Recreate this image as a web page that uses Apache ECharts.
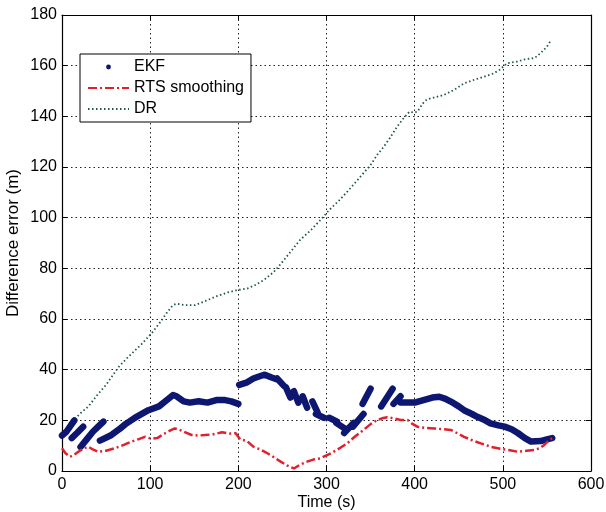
<!DOCTYPE html>
<html>
<head>
<meta charset="utf-8">
<script src="https://cdn.jsdelivr.net/npm/echarts@6/dist/echarts.min.js"></script>
<style>
html,body{margin:0;padding:0;background:#fff;}
#chart{width:606px;height:512px;}
</style>
</head>
<body>
<div id="chart"></div>
<script>
// ---- data ----
const seriesNames = ['EKF', 'RTS smoothing', 'DR'];

// EKF estimate: a thick band made of separate pieces (gaps between them)
const ekfSegments = [
  [[0,14],[5,15.5],[10,18],[14,20]],
  [[11,13],[17,15],[24,17.5]],
  [[21,9.5],[28,12.5],[35,15.5],[41,17.5],[47,19.5]],
  [[43,12],[55,14],[65,16.5],[72,18.5],[85,21.5],[98,24],[110,25.5],[119,28],[126,30],[130,29.5],[138,27.5],[145,27],[155,27.5],[165,27],[175,28],[185,28],[192,27.5],[200,26.5]],
  [[201,34],[210,35],[217,36.5],[225,37.5],[230,38],[237,37],[245,36]],
  [[244,36.5],[252,33.5]],
  [[254,33],[259,29]],
  [[263,31.5],[268,27]],
  [[273,29.5],[278,25]],
  [[284,27.5],[290,23]],
  [[288,22.5],[297,21]],
  [[303,21],[312,19.5]],
  [[311,19],[322,16.5]],
  [[320,15],[331,19]],
  [[330,17.5],[342,22.5]],
  [[341,26.5],[350,32.5]],
  [[362,25.5],[375,32.5]],
  [[376,26.5],[384,29.5]],
  [[384,27],[395,27],[400,27],[410,28],[420,29],[428,29.3],[435,28.5],[441,27.4],[450,25.5],[456,24],[465,22.5],[471,21.4],[480,20],[486,18.8],[495,18],[502,17.5],[510,16.5],[517,15],[525,13],[532,11.6],[543,11.8],[550,12.5],[556,13]]
];

const rtsData = [[0,9],[4,7],[9,5.6],[14,6.5],[18.5,7.6],[24,8.8],[30,9.6],[35,8.5],[41,7.6],[50,8],[60,9],[70,10.3],[79,11.6],[87,12.6],[94,13.5],[101,12.8],[108,13],[117,14.9],[123,16],[128,16.8],[133,16.3],[138,15.5],[147,14.2],[155,14],[162,14.2],[172,14.5],[181.5,15.3],[190,14.8],[197,14.9],[202,12.5],[210,11.8],[217,9.6],[225,8.5],[233,7],[240,5.5],[248,3.7],[255,2.2],[263,1],[270,2.5],[278,3.7],[285,4.5],[293,5],[300,6.2],[305,7],[314,8.8],[323.5,10.9],[332,13.5],[342,16.2],[350,18.5],[357.6,20.1],[363,20.8],[369,21.2],[376,20.8],[384,20.1],[392,20.1],[398,18.5],[403,17.5],[412,17],[422,16.8],[432,16.5],[441,16.2],[448,15],[456,13.5],[466,12],[475,10.9],[487,9.5],[498,8.7],[508,8.2],[517,7.6],[527,8],[535.6,8.3],[542,9],[547,10.3],[552,12],[558,13.5]];

const drData = [[0,14.5],[3,16],[12,19.5],[20,22.5],[30,25.5],[40,30],[50,34],[64,41],[75,45],[90,50],[102,54.5],[112,59],[120,63],[126,65.5],[130,66],[140,65.5],[151,65.5],[162,67],[174,68.8],[188,70.5],[200,71.5],[210,72],[219,73.4],[229,75.4],[240,78.5],[248,81.7],[258,86],[270,91.2],[282,95],[293,99],[303,103],[315,107],[327,111.6],[338,116],[350,120.8],[358,125],[365,128],[372,131.5],[380,135.9],[388,139.5],[394,141.8],[399,141.5],[403,141.8],[409,145],[414,146.7],[423,147.5],[433,148.4],[445,150.5],[456,153],[468,154.5],[479,155.7],[490,157],[496,158.3],[505,161],[515,161.5],[525,162.5],[536,163],[543,165],[550,167.5],[554,169.7]];

const xMin = 0, xMax = 600, xStep = 100;
const yMin = 0, yMax = 180, yStep = 20;
const xTitle = 'Time (s)';
const yTitle = 'Difference error (m)';

// ---- build ----
const ekfData = [];
ekfSegments.forEach((seg, i) => {
  if (i > 0) ekfData.push([seg[0][0], '-']);
  seg.forEach(p => ekfData.push(p));
});

const FONT = '"Liberation Sans", Arial, Helvetica, sans-serif';
const dotted = [1.5, 3];

function xAx(pos, showLabels) {
  return {
    type: 'value', min: xMin, max: xMax, interval: xStep, position: pos,
    name: showLabels ? xTitle : '', nameLocation: 'middle', nameGap: 24, nameMoveOverlap: false,
    nameTextStyle: {fontFamily: FONT, fontSize: 16, color: '#000'},
    axisLine: {show: true, onZero: false, lineStyle: {color: '#000', width: 1.2}},
    axisTick: {show: true, inside: true, length: 5, lineStyle: {color: '#000'}},
    axisLabel: {show: showLabels, fontFamily: FONT, fontSize: 16, color: '#000', margin: 6},
    splitLine: {show: showLabels, lineStyle: {color: '#222', type: dotted, width: 1}}
  };
}
function yAx(pos, showLabels) {
  return {
    type: 'value', min: yMin, max: yMax, interval: yStep, position: pos,
    name: showLabels ? yTitle : '', nameLocation: 'middle', nameGap: 40, nameMoveOverlap: false,
    nameTextStyle: {fontFamily: FONT, fontSize: 17, color: '#000'},
    axisLine: {show: true, onZero: false, lineStyle: {color: '#000', width: 1.2}},
    axisTick: {show: true, inside: true, length: 5, lineStyle: {color: '#000'}},
    axisLabel: {show: showLabels, fontFamily: FONT, fontSize: 16, color: '#000', margin: 5},
    splitLine: {show: showLabels, lineStyle: {color: '#222', type: dotted, width: 1}}
  };
}

const chart = echarts.init(document.getElementById('chart'), null, {renderer: 'canvas'});
chart.setOption({
  animation: false,
  backgroundColor: '#fff',
  grid: {left: 62, right: 15, top: 15, bottom: 41, containLabel: false, outerBoundsMode: 'none'},
  xAxis: [xAx('bottom', true), xAx('top', false)],
  yAxis: [yAx('left', true), yAx('right', false)],
  legend: {
    orient: 'vertical', left: 80, top: 54,
    padding: [5, 7, 5, 7], itemGap: 5, itemWidth: 41, itemHeight: 6,
    backgroundColor: '#fff', borderColor: '#000', borderWidth: 1, borderRadius: 0,
    textStyle: {fontFamily: FONT, fontSize: 16, color: '#000'},
    data: [
      {name: seriesNames[0], lineStyle: {opacity: 0}, itemStyle: {color: '#0d1670', opacity: 1}},
      {name: seriesNames[1], itemStyle: {opacity: 0}},
      {name: seriesNames[2], itemStyle: {opacity: 0}}
    ]
  },
  series: [
    {
      name: seriesNames[0], type: 'line', data: ekfData, connectNulls: false,
      symbol: 'circle', symbolSize: 4, showSymbol: false,
      itemStyle: {color: '#0d1670'},
      lineStyle: {color: '#0d1670', width: 6.5, cap: 'round', join: 'round'},
      z: 3
    },
    {
      name: seriesNames[1], type: 'line', data: rtsData,
      symbol: 'none', itemStyle: {color: '#e0202c'},
      lineStyle: {color: '#e0202c', width: 2.5, type: [9, 3, 2, 3]},
      z: 4
    },
    {
      name: seriesNames[2], type: 'line', data: drData,
      symbol: 'none', itemStyle: {color: '#1f5a40'},
      lineStyle: {color: '#1f5a40', width: 1.8, type: [1.5, 2.5]},
      z: 2
    }
  ]
});
</script>
</body>
</html>
